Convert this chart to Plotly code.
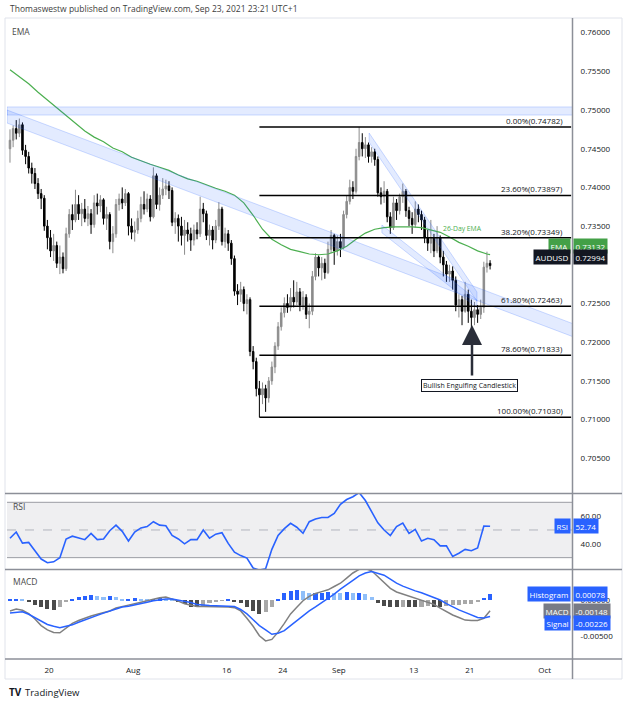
import plotly.graph_objects as go
import pandas as pd

W, H = 624, 705
FONT = "Open Sans"

# ---------------- data (prices in pips, 1e-4) ----------------
OPEN_FIRST = 7450
CLOSE = [7461, 7476, 7470, 7481, 7448, 7440, 7425, 7418, 7405, 7392,
         7386, 7350, 7335, 7318, 7325, 7302, 7310, 7295, 7340, 7365,
         7358, 7378, 7366, 7372, 7360, 7366, 7352, 7380, 7376, 7384,
         7360, 7365, 7330, 7340, 7378, 7385, 7380, 7392, 7350, 7342,
         7345, 7360, 7378, 7372, 7385, 7362, 7415, 7378, 7390, 7398,
         7402, 7396, 7355, 7360, 7350, 7338, 7345, 7340, 7332, 7345,
         7340, 7372, 7366, 7338, 7345, 7332, 7350, 7372, 7330, 7340,
         7328, 7308, 7266, 7262, 7268, 7250, 7255, 7188, 7175, 7140,
         7132, 7140, 7128, 7150, 7168, 7195, 7220, 7238, 7250, 7245,
         7258, 7252, 7265, 7248, 7258, 7236, 7240, 7285, 7310, 7296,
         7302, 7290, 7320, 7338, 7318, 7330, 7322, 7365, 7382, 7400,
         7395, 7440, 7458, 7450, 7455, 7440, 7446, 7436, 7393, 7388,
         7395, 7362, 7348, 7380, 7370, 7388, 7395, 7370, 7360, 7352,
         7372, 7365, 7358, 7335, 7328, 7335, 7318, 7335, 7310, 7300,
         7288, 7292, 7280, 7248, 7255, 7240, 7262, 7240, 7232, 7242,
         7236, 7245, 7297, 7302, 7299]
HIGH = [7475, 7480, 7487, 7489, 7484, 7455, 7446, 7432, 7425, 7412,
        7398, 7390, 7358, 7345, 7340, 7330, 7325, 7316, 7348, 7372,
        7378, 7397, 7390, 7380, 7385, 7376, 7372, 7390, 7392, 7390,
        7386, 7375, 7368, 7350, 7385, 7392, 7400, 7398, 7394, 7360,
        7356, 7370, 7388, 7395, 7392, 7390, 7426, 7418, 7400, 7412,
        7410, 7408, 7400, 7368, 7365, 7362, 7358, 7355, 7348, 7352,
        7355, 7388, 7380, 7370, 7352, 7350, 7358, 7381, 7375, 7348,
        7345, 7332, 7312, 7275, 7278, 7272, 7262, 7258, 7195, 7180,
        7150, 7148, 7145, 7155, 7175, 7200, 7226, 7245, 7258, 7262,
        7270, 7280, 7278, 7270, 7266, 7262, 7250, 7292, 7315, 7312,
        7310, 7308, 7330, 7345, 7340, 7338, 7340, 7370, 7390, 7410,
        7408, 7450, 7478, 7470, 7465, 7458, 7452, 7450, 7440, 7400,
        7408, 7398, 7368, 7388, 7385, 7392, 7405, 7398, 7375, 7368,
        7382, 7378, 7370, 7362, 7345, 7358, 7340, 7350, 7338, 7318,
        7305, 7300, 7298, 7285, 7262, 7260, 7278, 7268, 7255, 7252,
        7248, 7255, 7304, 7317, 7306]
LOW = [7432, 7452, 7462, 7465, 7442, 7430, 7418, 7405, 7398, 7385,
       7372, 7344, 7320, 7310, 7305, 7296, 7288, 7289, 7292, 7335,
       7345, 7355, 7358, 7350, 7355, 7350, 7340, 7348, 7365, 7368,
       7352, 7345, 7320, 7315, 7335, 7370, 7372, 7376, 7338, 7333,
       7330, 7340, 7355, 7365, 7368, 7356, 7360, 7372, 7370, 7385,
       7390, 7385, 7350, 7340, 7330, 7325, 7313, 7330, 7318, 7325,
       7333, 7336, 7355, 7332, 7325, 7320, 7328, 7345, 7325, 7322,
       7318, 7300, 7260, 7248, 7252, 7240, 7236, 7182, 7165, 7130,
       7103, 7120, 7110, 7122, 7145, 7160, 7190, 7215, 7232, 7238,
       7240, 7245, 7248, 7240, 7242, 7230, 7218, 7235, 7280, 7285,
       7280, 7282, 7288, 7315, 7300, 7312, 7310, 7320, 7360, 7378,
       7385, 7392, 7435, 7440, 7438, 7432, 7432, 7428, 7388, 7378,
       7380, 7355, 7340, 7345, 7358, 7365, 7380, 7362, 7350, 7340,
       7348, 7355, 7345, 7328, 7318, 7315, 7310, 7315, 7302, 7285,
       7278, 7278, 7268, 7240, 7232, 7222, 7238, 7225, 7218, 7222,
       7225, 7230, 7238, 7290, 7294]

# 26-day EMA, sampled every 3 candles (pips), last value at final candle
EMA26 = [7552, 7543, 7534, 7523, 7513, 7503, 7492, 7483, 7473, 7465,
         7459, 7451, 7446, 7439, 7434, 7430, 7426, 7422, 7416, 7411,
         7408, 7403, 7399, 7395, 7390, 7380, 7364, 7346, 7333, 7326,
         7320, 7317, 7314, 7313, 7314, 7318, 7324, 7333, 7341, 7346,
         7348, 7349, 7349, 7349, 7348, 7345, 7342, 7336, 7329, 7324,
         7318, 7314, 7313.2]

# oscillators, sampled every 2 candles
RSI = [44, 48.5, 40.5, 41, 35, 29, 26.3, 27, 30, 43.5,
       45.5, 44.5, 43, 47.5, 43, 43.5, 49.5, 53.5, 49, 42,
       48.5, 51.5, 52.5, 56, 53.5, 53, 46, 43.5, 40, 43,
       43, 50, 44, 47, 48, 40.3, 34, 31.5, 29.7, 22.5,
       21, 22, 36, 46, 51, 54.8, 52, 47.6, 56, 58,
       59, 59, 62, 68.5, 72, 74, 77, 71.3, 63, 55.2,
       50, 46, 52.5, 55, 47.5, 50.5, 42, 44, 43, 38.5,
       38.5, 30.8, 33.2, 36, 35, 37, 52.9, 52.74]
MACD = [-15, -12.5, -14, -18.5, -26, -35, -41, -44.5, -45, -38,
        -32, -28, -24.5, -22, -19.5, -17.5, -15, -11, -8.5, -7,
        -5, -3, -1, 1.5, 3, 4, 1.5, -1.5, -5, -7.5,
        -9, -9, -9, -9, -9, -9.5, -10.5, -15, -25, -36,
        -49, -56, -54, -44, -32, -19, -10, -1, 5, 9,
        11.5, 14, 18.5, 23, 30, 37, 42, 43, 40, 32,
        23, 16, 11, 8, 5, 2, -0.5, -3, -6, -11,
        -16, -20.5, -24, -27.5, -28, -28, -25, -14.8]
SIGNAL = [-17.8, -17, -16.2, -19.5, -24, -29, -33.5, -36, -38, -36,
          -34, -30.5, -27, -24, -21, -18, -15, -12, -9.5, -8.5,
          -7, -4.5, -3, -1, 0.5, 1.5, 1.5, 0, -1, -3.5,
          -6, -7, -7.5, -7.8, -8, -8.4, -9, -13, -19, -27,
          -35, -41, -47, -45.5, -42, -35, -28, -22, -15, -9.5,
          -4, 2, 8, 15, 21.5, 27, 33, 37, 39, 37,
          34, 28.5, 23, 19, 15.5, 12.5, 10, 7, 3.5, 0,
          -5, -9.5, -13.5, -17, -20.5, -24, -24.5, -22.6]
HIST = [1, 1.5, 1, -3, -7, -10, -12.5, -13, -10, -3,
        2, 4, 5.5, 6.5, 6, 4, 5, 3.5, 1, 2,
        2.5, 1.5, 1, 2, 2.5, 2, 0.5, -2, -6, -9,
        -10, -8, -4, -1.5, -0.5, 0.5, -1.5, -4, -9, -15,
        -18.5, -17, -10, 2, 9, 13, 14, 12, 9, 9.5,
        10, 10.5, 10, 9.5, 10.5, 10, 10, 8, 4, -4,
        -8, -9, -10, -9, -10, -10, -9, -8.5, -9, -9,
        -8, -7.5, -7, -6, -5, -3, 3, 7.8]

LAST_EMA, LAST_PRICE = 0.73132, 0.72994
LAST_RSI = 52.74
LAST_HIST, LAST_MACD, LAST_SIGNAL = 0.00078, -0.00148, -0.00226

FIB_HIGH, FIB_LOW = 0.74782, 0.71030
FIB_LEVELS = [0.0, 0.236, 0.382, 0.618, 0.786, 1.0]

START_DATE, END_DATE = "2021-07-14", "2021-10-01"
CANDLES_PER_DAY = 3
TICK_DATES = ["2021-07-20", "2021-08-02", "2021-08-16", "2021-08-24",
              "2021-09-01", "2021-09-13", "2021-09-21", "2021-10-01"]
TICK_LABELS = ["20", "Aug", "16", "24", "Sep", "13", "21", "Oct"]
# 0.73000 is hidden behind the EMA / AUDUSD tags in the reference
PRICE_TICKS = [0.705, 0.71, 0.715, 0.72, 0.725, 0.735, 0.74, 0.745, 0.75, 0.755, 0.76]

# drawings (candle index, price)
TOP_ZONE = (0.74935, 0.75040)
LONG_CHANNEL = (-0.96, 0.75000, 180.6, 0.72239, 0.00168)
STEEP_CHANNEL = (115.2, 0.74703, 149.8, 0.72649, 0.0012)
MID_CHANNEL = (119.3, 0.73514, 149.8, 0.72545, 0.0010)

# ---------------- derived ----------------
pip = lambda v: [x / 10000 for x in v]
n = len(CLOSE)
idx = list(range(n))
opens = [OPEN_FIRST] + CLOSE[:-1]
ema_x = list(range(0, n - 1, 3)) + [n - 1]
osc_x = list(range(0, n, 2))

days = pd.bdate_range(START_DATE, END_DATE)
day_index = {d.strftime("%Y-%m-%d"): k for k, d in enumerate(days)}
tickvals = [day_index[d] * CANDLES_PER_DAY + 0.5 for d in TICK_DATES]

XR = [-0.96, 180.6]
def py(pix):
    return 1 - pix / H

hist_colors = []
for k, h in enumerate(HIST):
    prev = HIST[k - 1] if k > 0 else h
    if h >= 0:
        hist_colors.append("#2962FF" if h >= prev else "#90BFF9")
    else:
        hist_colors.append("#4a4a4a" if h <= prev else "#a8a8a8")

fig = go.Figure()
fig.add_trace(go.Candlestick(
    x=idx, open=pip(opens), high=pip(HIGH), low=pip(LOW), close=pip(CLOSE),
    increasing=dict(line=dict(color="#8c8c8c", width=1), fillcolor="#8c8c8c"),
    decreasing=dict(line=dict(color="#000000", width=1), fillcolor="#000000"),
    whiskerwidth=0, showlegend=False, hoverinfo="skip", xaxis="x", yaxis="y"))
fig.add_trace(go.Scatter(x=ema_x, y=pip(EMA26), mode="lines",
                         line=dict(color="#4CAF50", width=1.2),
                         showlegend=False, hoverinfo="skip", yaxis="y"))
fig.add_trace(go.Scatter(x=osc_x, y=RSI, mode="lines",
                         line=dict(color="#2962FF", width=1.6),
                         showlegend=False, hoverinfo="skip", yaxis="y2"))
fig.add_trace(go.Bar(x=osc_x, y=pip(HIST), marker=dict(color=hist_colors, line=dict(width=0)),
                     width=1.3, showlegend=False, hoverinfo="skip", yaxis="y3"))
fig.add_trace(go.Scatter(x=osc_x, y=pip(MACD), mode="lines",
                         line=dict(color="#808080", width=1.5),
                         showlegend=False, hoverinfo="skip", yaxis="y3"))
fig.add_trace(go.Scatter(x=osc_x, y=pip(SIGNAL), mode="lines",
                         line=dict(color="#2962FF", width=1.5),
                         showlegend=False, hoverinfo="skip", yaxis="y3"))

shapes = []
GRID = "#8c8f98"
def pline(x0, y0, x1, y1, color=GRID, width=1.5):
    shapes.append(dict(type="line", xref="paper", yref="paper",
                       x0=x0 / W, x1=x1 / W, y0=py(y0), y1=py(y1),
                       line=dict(color=color, width=width), layer="above"))

# frame
shapes.append(dict(type="rect", xref="paper", yref="paper", x0=5 / W, x1=622 / W,
                   y0=py(679), y1=py(18), line=dict(color="#e0e3eb", width=1)))
# RSI band
shapes.append(dict(type="rect", xref="x", yref="y2", x0=XR[0], x1=XR[1], y0=30, y1=70,
                   fillcolor="#efeff1", line=dict(width=0), layer="below"))
for lv in (30, 70):
    shapes.append(dict(type="line", xref="x", yref="y2", x0=XR[0], x1=XR[1], y0=lv, y1=lv,
                       line=dict(color="#9a9ca3", width=1), layer="below"))
shapes.append(dict(type="line", xref="x", yref="y2", x0=XR[0], x1=XR[1], y0=50, y1=50,
                   line=dict(color="#b2b5be", width=1, dash="dash"), layer="below"))

# blue zones / channels
BLUE_FILL = "rgba(41,98,255,0.13)"
BLUE_LINE = "rgba(41,98,255,0.22)"
shapes.append(dict(type="rect", xref="x", yref="y", x0=XR[0], x1=XR[1],
                   y0=TOP_ZONE[0], y1=TOP_ZONE[1], fillcolor=BLUE_FILL,
                   line=dict(color=BLUE_LINE, width=1), layer="above"))
for (i0, p0, i1, p1, w) in (LONG_CHANNEL, STEEP_CHANNEL, MID_CHANNEL):
    path = f"M {i0},{p0} L {i1},{p1} L {i1},{p1 - w} L {i0},{p0 - w} Z"
    shapes.append(dict(type="path", xref="x", yref="y", path=path, fillcolor=BLUE_FILL,
                       line=dict(color=BLUE_LINE, width=1), layer="above"))

# fibonacci
fib_start = min(range(n), key=lambda i: LOW[i])
annotations = []
for lv in FIB_LEVELS:
    price = FIB_HIGH - lv * (FIB_HIGH - FIB_LOW)
    shapes.append(dict(type="line", xref="x", yref="y", x0=fib_start, x1=180.0,
                       y0=price, y1=price, line=dict(color="#000000", width=1.5), layer="above"))
    annotations.append(dict(x=178, y=price, xref="x", yref="y", xanchor="right", yanchor="bottom",
                            text=f"{lv * 100:.2f}%({price:.5f})", showarrow=False,
                            font=dict(size=8, color="#131722", family=FONT), yshift=-1))

# pane separators & axes lines
pline(5, 493.5, 622, 493.5)
pline(5, 569.5, 622, 569.5)
pline(5, 659, 622, 659)
pline(572.5, 18, 572.5, 679)

def text(x, y, s, size=8.5, color="#4a4a4a", anchor="left"):
    annotations.append(dict(x=x / W, y=py(y), xref="paper", yref="paper", text=s,
                            showarrow=False, xanchor=anchor, yanchor="middle",
                            font=dict(size=size, color=color, family=FONT)))

text(8, 8, "Thomaswestw published on TradingView.com, Sep 23, 2021 23:21 UTC+1", 8.5, "#3d3d3d")
text(10, 32, "EMA", 8.5)
text(11, 506, "RSI", 8.5)
text(11, 581, "MACD", 8.5)
text(7, 692, "<b>TV</b>", 10, "#131722")
text(23, 692, "TradingView", 9.5, "#131722")

# chart notes
annotations.append(dict(x=145, y=0.73475, xref="x", yref="y", text="26-Day EMA", showarrow=False,
                        font=dict(size=6.8, color="#4CAF50", family=FONT)))
annotations.append(dict(x=147.3, y=0.71447, xref="x", yref="y", text="Bullish Engulfing Candlestick",
                        showarrow=False, bgcolor="#ffffff", bordercolor="#131722", borderwidth=1,
                        borderpad=1, font=dict(size=7, color="#131722", family=FONT)))
annotations.append(dict(x=148.2, y=0.72222, xref="x", yref="y", ax=148.2, ay=0.71550,
                        axref="x", ayref="y", text="", showarrow=True, arrowhead=2,
                        arrowsize=1.6, arrowwidth=2.5, arrowcolor="#2a2e39"))

# right-axis tags
def tag(label, value_text, yval, yref, color, yshift=0, fg="#ffffff"):
    annotations.append(dict(x=573 / W, y=yval, xref="paper", yref=yref, text=value_text,
                            showarrow=False, xanchor="left", yanchor="middle", yshift=yshift,
                            bgcolor=color, borderpad=1.5,
                            font=dict(size=8, color=fg, family=FONT)))
    annotations.append(dict(x=571 / W, y=yval, xref="paper", yref=yref, text=label,
                            showarrow=False, xanchor="right", yanchor="middle", yshift=yshift,
                            bgcolor=color, borderpad=1.5,
                            font=dict(size=8, color=fg, family=FONT)))

tag("EMA", f"{LAST_EMA:.5f}", LAST_EMA, "y", "#43A047", yshift=8.5)
tag("AUDUSD", f"{LAST_PRICE:.5f}", LAST_PRICE, "y", "#131722", yshift=8)
tag("RSI", f"{LAST_RSI:.2f}", LAST_RSI, "y2", "#2962FF")
tag("Histogram", f"{LAST_HIST:.5f}", LAST_HIST, "y3", "#2962FF")
tag("MACD", f"{LAST_MACD:.5f}", LAST_MACD, "y3", "#787B86")
tag("Signal", f"{LAST_SIGNAL:.5f}", LAST_SIGNAL, "y3", "#2962FF", yshift=-6.5)

axis_font = dict(size=8, color="#131722", family=FONT)
common_y = dict(side="right", anchor="x", showgrid=False, zeroline=False, showline=False,
                ticks="outside", ticklen=5, tickcolor="rgba(0,0,0,0)", tickfont=axis_font,
                fixedrange=True)

fig.update_layout(
    width=W, height=H, margin=dict(l=0, r=0, t=0, b=0),
    paper_bgcolor="#ffffff", plot_bgcolor="#ffffff",
    showlegend=False, bargap=0,
    xaxis=dict(domain=[7 / W, 573 / W], anchor="y3", range=XR, showgrid=False, zeroline=False,
               showline=False, tickvals=tickvals, ticktext=TICK_LABELS, ticks="outside",
               ticklen=3, tickcolor="rgba(0,0,0,0)", tickfont=axis_font,
               rangeslider=dict(visible=False)),
    yaxis=dict(domain=[py(493), py(19)], range=[0.70052, 0.76176],
               tickvals=PRICE_TICKS, ticktext=[f"{t:.5f}" for t in PRICE_TICKS], **common_y),
    yaxis2=dict(domain=[py(569), py(494)], range=[21.8, 76.0],
                tickvals=[40, 60], ticktext=["40.00", "60.00"], **common_y),
    yaxis3=dict(domain=[py(659), py(570)], range=[-0.00808, 0.00411],
                tickvals=[0, -0.005], ticktext=["0.00000", "-0.00500"], **common_y),
    shapes=shapes, annotations=annotations,
)

fig.write_html("out.html", config={"displayModeBar": False},
               post_script="document.body.style.margin='0';document.body.style.overflow='hidden';")
